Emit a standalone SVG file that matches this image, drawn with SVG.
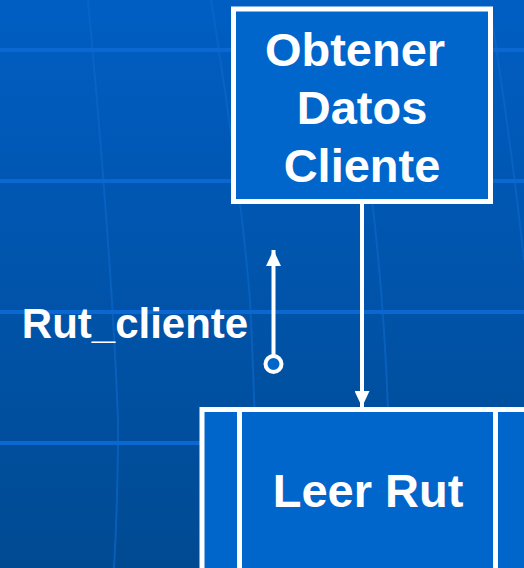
<svg xmlns="http://www.w3.org/2000/svg" width="524" height="568" viewBox="0 0 524 568">
<defs>
<linearGradient id="bg" x1="0" y1="0" x2="0" y2="1">
<stop offset="0" stop-color="#005EC3"/>
<stop offset="1" stop-color="#004A92"/>
</linearGradient>
<marker id="ah" viewBox="0 0 16 15" refX="16" refY="7.5" markerWidth="16" markerHeight="15" markerUnits="userSpaceOnUse" orient="auto">
<path d="M0,0 L16,7.5 L0,15 Z" fill="#FFFFFF"/>
</marker>
<style>
.grid{stroke:#0A68D0;stroke-width:4;fill:none}
.curve{stroke:#0C66C8;stroke-width:2;fill:none;opacity:0.7}
.box{fill:#0066CC;stroke:#FFFFFF;stroke-width:5}
.conn{stroke:#FFFFFF;stroke-width:4;fill:none}
.t{font-family:"Liberation Sans",Arial,sans-serif;font-weight:bold;fill:#FFFFFF;text-anchor:middle}
</style>
</defs>
<rect width="524" height="568" fill="url(#bg)"/>
<g id="background-grid">
<path class="curve" d="M88,0 Q112,260 118,420 Q118,500 114,568"/>
<path class="curve" d="M211,0 Q240,180 250,300 Q256,420 258,568"/>
<path class="curve" d="M372,200 Q384,300 388,410"/>
<path class="curve" d="M492,20 Q512,150 524,260"/>
<line class="grid" x1="0" y1="50" x2="524" y2="50"/>
<line class="grid" x1="0" y1="181" x2="524" y2="181"/>
<line class="grid" x1="0" y1="312" x2="524" y2="312"/>
<line class="grid" x1="0" y1="443" x2="524" y2="443"/>
</g>
<g id="node-obtener">
<rect class="box" x="233.5" y="9" width="257" height="192.5"/>
<text class="t" font-size="47" x="355" y="66">Obtener</text>
<text class="t" font-size="47" x="362" y="124">Datos</text>
<text class="t" font-size="47" x="362" y="182">Cliente</text>
</g>
<g id="node-leer">
<rect class="box" x="202" y="409.5" width="340" height="200"/>
<line stroke="#FFFFFF" stroke-width="5" x1="239.5" y1="409.5" x2="239.5" y2="570"/>
<line stroke="#FFFFFF" stroke-width="5" x1="495.5" y1="409.5" x2="495.5" y2="570"/>
<text class="t" font-size="47" x="368" y="507">Leer Rut</text>
</g>
<g id="connectors">
<line class="conn" x1="362" y1="203" x2="362" y2="407" marker-end="url(#ah)"/>
<line class="conn" x1="273.5" y1="355" x2="273.5" y2="250" marker-end="url(#ah)"/>
<circle cx="273.5" cy="364" r="8" fill="#0066CC" stroke="#FFFFFF" stroke-width="4"/>
<text class="t" font-size="42" x="135" y="338">Rut_cliente</text>
</g>
</svg>
